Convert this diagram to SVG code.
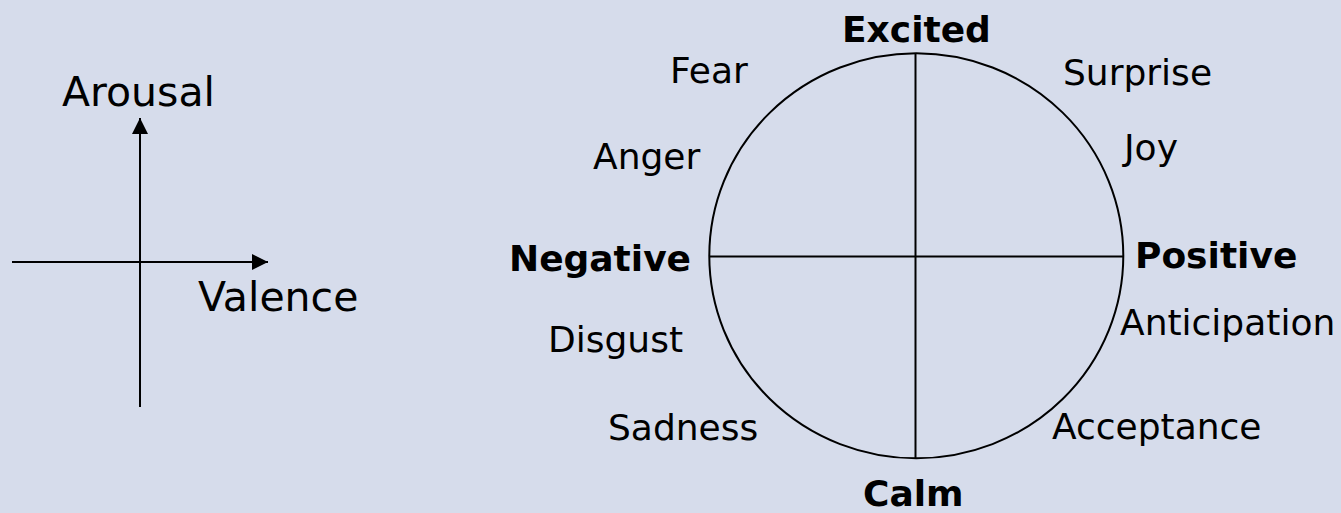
<svg xmlns="http://www.w3.org/2000/svg" width="1341" height="513" viewBox="0 0 1341 513">
<style>
text{font-family:"DejaVu Sans",Verdana,sans-serif;fill:#000}
.lbl{font-size:36px}
.ax{font-size:41px}
.b{font-size:36px;font-weight:bold}
.ln{stroke:#000;stroke-width:2;fill:none}
</style>
<defs>
<marker id="arr" viewBox="0 0 16 16" refX="16" refY="8" markerWidth="16" markerHeight="16" markerUnits="userSpaceOnUse" orient="auto">
<path d="M0,0 L16,8 L0,16 Z" fill="#000"/>
</marker>
</defs>
<rect width="1341" height="513" fill="#D6DCEB"/>
<g id="connectors">
<line class="ln" x1="140" y1="407" x2="140" y2="118" marker-end="url(#arr)"/>
<line class="ln" x1="12" y1="262" x2="268" y2="262" marker-end="url(#arr)"/>
<line class="ln" x1="915.5" y1="53" x2="915.5" y2="458"/>
<line class="ln" x1="709" y1="256.5" x2="1123" y2="256.5"/>
</g>
<g id="axis-labels">
<text class="ax" x="62" y="106">Arousal</text>
<text class="ax" x="198" y="311">Valence</text>
</g>
<g id="circle">
<ellipse class="ln" cx="916.3" cy="255.8" rx="207" ry="202.5"/>
</g>
<g id="poles">
<text class="b" x="842" y="42">Excited</text>
<text class="b" x="863" y="506">Calm</text>
<text class="b" x="509" y="271">Negative</text>
<text class="b" x="1135" y="268">Positive</text>
</g>
<g id="emotions">
<text class="lbl" x="670" y="83">Fear</text>
<text class="lbl" x="1063" y="85">Surprise</text>
<text class="lbl" x="1124" y="160">Joy</text>
<text class="lbl" x="593" y="169">Anger</text>
<text class="lbl" x="548" y="352">Disgust</text>
<text class="lbl" x="1120" y="335">Anticipation</text>
<text class="lbl" x="608" y="440">Sadness</text>
<text class="lbl" x="1052" y="439">Acceptance</text>
</g>
</svg>
